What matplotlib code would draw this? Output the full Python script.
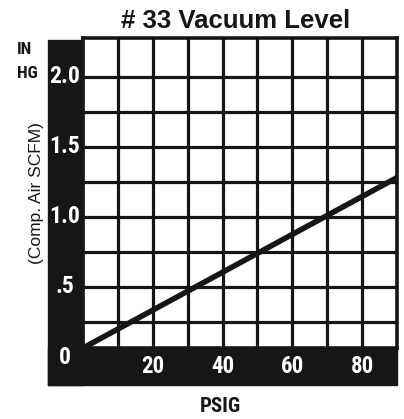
import matplotlib.pyplot as plt
from matplotlib import font_manager, transforms
from matplotlib.patches import Rectangle

# Air consumption vs. supply pressure for the #33 generator
psig = [0, 90]
scfm = [0.065, 1.28]

x_ticks = [20, 40, 60, 80]
y_ticks = [0, 0.5, 1.0, 1.5, 2.0]
y_tick_labels = ['0', '.5', '1.0', '1.5', '2.0']

installed = {f.name for f in font_manager.fontManager.ttflist}
narrow = 'Liberation Sans'
for cand in ['Liberation Sans Narrow', 'Roboto Condensed', 'Arial Narrow']:
    if cand in installed:
        narrow = cand
        break
plain = ['Liberation Sans', 'DejaVu Sans']
plt.rcParams['font.family'] = [narrow, 'DejaVu Sans']

INK = '#161616'
W, H = 404, 419


def fx(px):
    return px / W


def fy(py):
    return 1 - py / H


fig = plt.figure(figsize=(W / 100, H / 100), dpi=100)
ax = fig.add_axes([fx(83), fy(348), fx(397) - fx(83), fy(38) - fy(348)])
ax.set_xlim(0, 90)
ax.set_ylim(0.065, 2.275)
ax.set_xticks(range(10, 90, 10))
ax.set_yticks([0.25 * k for k in range(1, 9)])
ax.tick_params(length=0, labelbottom=False, labelleft=False)
ax.grid(True, color=INK, linewidth=2.3)
for s in ax.spines.values():
    s.set_linewidth(2.6)
    s.set_color(INK)

ax.plot(psig, scfm, color=INK, linewidth=4, solid_capstyle='butt', zorder=3)

# black scale strips along the left and bottom edges
fig.patches.append(Rectangle((fx(48), fy(385)), fx(83) - fx(48), fy(40) - fy(385),
                             transform=fig.transFigure, color=INK, zorder=2))
fig.patches.append(Rectangle((fx(48), fy(385)), fx(397) - fx(48), fy(348) - fy(385),
                             transform=fig.transFigure, color=INK, zorder=2))

# scale numbers sit on the strips, so they go on the figure above the patches
ytrans = transforms.blended_transform_factory(fig.transFigure, ax.transData)
for v, lab in zip(y_ticks, y_tick_labels):
    fig.text(fx(65), v, lab, transform=ytrans, ha='center', va='center',
             color='white', fontsize=17, fontweight='bold', zorder=4)

xtrans = transforms.blended_transform_factory(ax.transData, fig.transFigure)
for v in x_ticks:
    fig.text(v, fy(366), str(v), transform=xtrans, ha='center', va='center',
             color='white', fontsize=16.5, fontweight='bold', zorder=4)

fig.text(fx(236), fy(21), '# 33 Vacuum Level', ha='center', va='center',
         fontsize=18.5, fontweight='bold', color=INK, family=plain)
fig.text(fx(17), fy(50), 'IN', ha='left', va='center', fontsize=12.5,
         fontweight='bold', color=INK)
fig.text(fx(17), fy(74), 'HG', ha='left', va='center', fontsize=12.5,
         fontweight='bold', color=INK)
fig.text(fx(37), fy(193), '(Comp. Air SCFM)', ha='center', va='center',
         rotation=90, fontsize=12.5, color=INK, family=plain)
fig.text(fx(220), fy(406), 'PSIG', ha='center', va='center', fontsize=15,
         fontweight='bold', color=INK)

fig.savefig('out.png', dpi=100)
